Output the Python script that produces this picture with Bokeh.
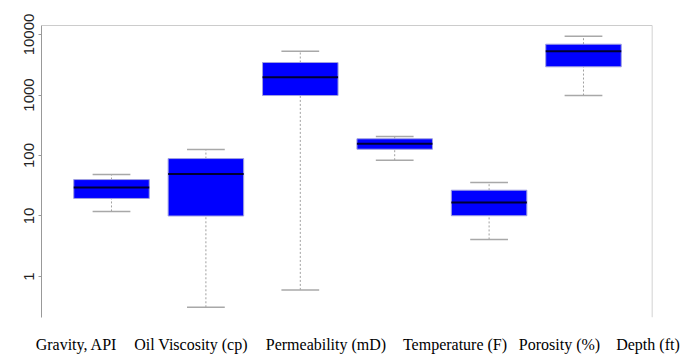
import numpy as np
from bokeh.plotting import figure
from bokeh.models import Range1d, FixedTicker, NumeralTickFormatter, Span, ColumnDataSource
from bokeh.embed import file_html
from bokeh.resources import INLINE

# ---- data ----
labels = ["Gravity, API", "Oil Viscosity (cp)", "Permeability (mD)",
          "Temperature (F)", "Porosity (%)", "Depth (ft)"]
whisker_low = [11.9, 0.31, 0.60, 83.6, 4.1, 980]
q1 = [19.5, 10.0, 980, 127, 10.1, 2925]
median = [29.6, 49.5, 1970, 156, 16.7, 5300]
q3 = [40.0, 89.0, 3445, 189, 26.7, 6915]
whisker_high = [48.5, 126, 5300, 206, 35.8, 9375]
y_ticks = [1, 10, 100, 1000, 10000]
label_pos = [0.629, 1.842, 3.272, 4.639, 5.746, 6.683]

# ---- layout / style ----
box_w = 0.8
cap_w = 0.4
x = np.arange(1, len(labels) + 1, dtype=float)
src = ColumnDataSource(dict(
    x=x, q1=q1, q3=q3, med=median, lo=whisker_low, hi=whisker_high,
    bx0=x - box_w / 2, bx1=x + box_w / 2,
    cx0=x - cap_w / 2, cx1=x + cap_w / 2,
))

p = figure(width=692, height=355, output_backend="svg", toolbar_location=None,
           y_axis_type="log",
           x_range=Range1d(0.2585, 6.731), y_range=Range1d(0.21, 14090),
           min_border_left=41, min_border_right=40, min_border_top=25,
           min_border_bottom=37)
p.outline_line_color = None
p.grid.visible = False
p.background_fill_color = "white"
p.border_fill_color = "white"

# whiskers
p.segment(x0="x", y0="q3", x1="x", y1="hi", source=src, line_color="#a0a0a0",
          line_width=1, line_dash="2 2")
p.segment(x0="x", y0="lo", x1="x", y1="q1", source=src, line_color="#a0a0a0",
          line_width=1, line_dash="2 2")
# caps
p.segment(x0="cx0", y0="hi", x1="cx1", y1="hi", source=src, line_color="#a8a8a8", line_width=1.5)
p.segment(x0="cx0", y0="lo", x1="cx1", y1="lo", source=src, line_color="#a8a8a8", line_width=1.5)
# boxes
p.quad(left="bx0", right="bx1", bottom="q1", top="q3", source=src,
       fill_color="#0000ff", line_color="#a0a0e0", line_width=1)
# medians
p.segment(x0="bx0", y0="med", x1="bx1", y1="med", source=src, line_color="#000033", line_width=2)

# left axis
ya = p.yaxis[0]
ya.ticker = FixedTicker(ticks=y_ticks)
ya.formatter = NumeralTickFormatter(format="0")
ya.major_label_orientation = "vertical"
ya.major_label_text_font = "Liberation Sans"
ya.major_label_text_font_size = "15px"
ya.major_label_text_color = "#222222"
ya.axis_line_color = "#999999"
ya.major_tick_line_color = "#999999"
ya.major_tick_out = 3
ya.major_tick_in = 0
ya.minor_tick_line_color = None
ya.major_label_standoff = 4

# bottom axis (category labels)
xa = p.xaxis[0]
xa.ticker = FixedTicker(ticks=label_pos)
xa.major_label_overrides = {pos: lab for pos, lab in zip(label_pos, labels)}
xa.axis_line_color = None
xa.major_tick_line_color = None
xa.major_tick_out = 0
xa.major_tick_in = 0
xa.minor_tick_line_color = None
xa.major_label_text_font = "Liberation Serif"
xa.major_label_text_font_size = "16px"
xa.major_label_text_color = "black"
xa.major_label_standoff = 18

# top and right frame lines
p.add_layout(Span(location=14090, dimension="width", line_color="#999999", line_width=1))
p.add_layout(Span(location=6.731, dimension="height", line_color="#c4c4c4", line_width=1.5))

open("out.html", "w").write(file_html(p, INLINE))
